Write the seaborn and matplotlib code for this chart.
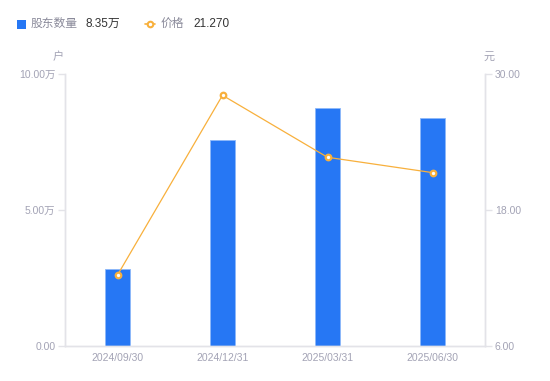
import matplotlib
matplotlib.use("Agg")
import matplotlib.pyplot as plt
import seaborn as sns
import pandas as pd
from matplotlib.patches import Rectangle
from matplotlib.lines import Line2D

dates = ["2024/09/30", "2024/12/31", "2025/03/31", "2025/06/30"]
holders_wan = [2.82, 7.56, 8.72, 8.35]
prices = [12.25, 28.08, 22.62, 21.27]
left_ticks = [0, 5, 10]
left_tick_labels = ["0.00", "5.00万", "10.00万"]
right_ticks = [6, 18, 30]
right_tick_labels = ["6.00", "18.00", "30.00"]

sns.set_theme(style="white")
plt.rcParams["font.family"] = ["Liberation Sans", "Noto Sans CJK SC", "DejaVu Sans"]

BLUE = "#2677F4"
ORANGE = "#F8B03C"
TICK_C = "#A3A3B5"
SPINE_C = "#E3E3E8"

df = pd.DataFrame({"date": dates, "holders": holders_wan, "price": prices})

fig = plt.figure(figsize=(5.5, 3.81), dpi=100)
ax = fig.add_axes([65/550, 1-346/381, 420/550, (346-73.5)/381])

sns.barplot(data=df, x="date", y="holders", ax=ax, color=BLUE, width=0.235,
            saturation=1, edgecolor="#8DB8FA", linewidth=0.6)
ax.set_ylim(0, 10)
ax.set_yticks(left_ticks)
ax.set_yticklabels(left_tick_labels)
ax.set_xlim(-0.5, 3.5)

ax2 = ax.twinx()
sns.pointplot(data=df, x="date", y="price", ax=ax2, color=ORANGE,
              markers="o", linestyles="-", linewidth=0.9,
              markersize=4, markerfacecolor="white", markeredgecolor=ORANGE,
              markeredgewidth=1.6, errorbar=None)
ax2.set_ylim(6, 30)
ax2.set_yticks(right_ticks)
ax2.set_yticklabels(right_tick_labels)
ax2.set_xlim(-0.5, 3.5)

for a in (ax, ax2):
    a.set_xlabel("")
    a.set_ylabel("")
    a.grid(False)
    for s in a.spines.values():
        s.set_color(SPINE_C)
        s.set_linewidth(1.0)
    a.spines["top"].set_visible(False)

ax.tick_params(axis="y", colors=SPINE_C, labelcolor=TICK_C, labelsize=7.5,
               length=5, width=1, direction="out", pad=2)
ax.tick_params(axis="x", length=0, labelcolor=TICK_C, labelsize=7.5, pad=5)
ax2.tick_params(axis="y", colors=SPINE_C, labelcolor=TICK_C, labelsize=7.5,
                length=5, width=1, direction="out", pad=2)

# axis unit labels
fig.text(58/550, 1-57/381, "户", color=TICK_C, fontsize=8, ha="center", va="center")
fig.text(489/550, 1-57/381, "元", color=TICK_C, fontsize=8, ha="center", va="center")

# legend
ly = 1-24/381
fig.patches.append(Rectangle((17/550, 1-28.5/381), 9/550, 9/381, transform=fig.transFigure,
                             facecolor=BLUE, edgecolor="none"))
fig.text(31/550, ly, "股东数量", color="#8A8A9A", fontsize=8.5, ha="left", va="center")
fig.text(85/550, ly, "8.35万", color="#333333", fontsize=8.5, ha="left", va="center")
fig.lines.append(Line2D([145/550, 155/550], [ly, ly], transform=fig.transFigure,
                        color=ORANGE, linewidth=1.2))
fig.lines.append(Line2D([150/550], [ly], transform=fig.transFigure, marker="o",
                        markersize=4, markerfacecolor="white", markeredgecolor=ORANGE,
                        markeredgewidth=1.5, linestyle="none"))
fig.text(161/550, ly, "价格", color="#8A8A9A", fontsize=8.5, ha="left", va="center")
fig.text(193/550, ly, "21.270", color="#333333", fontsize=8.5, ha="left", va="center")

fig.savefig("out.png", dpi=100)
